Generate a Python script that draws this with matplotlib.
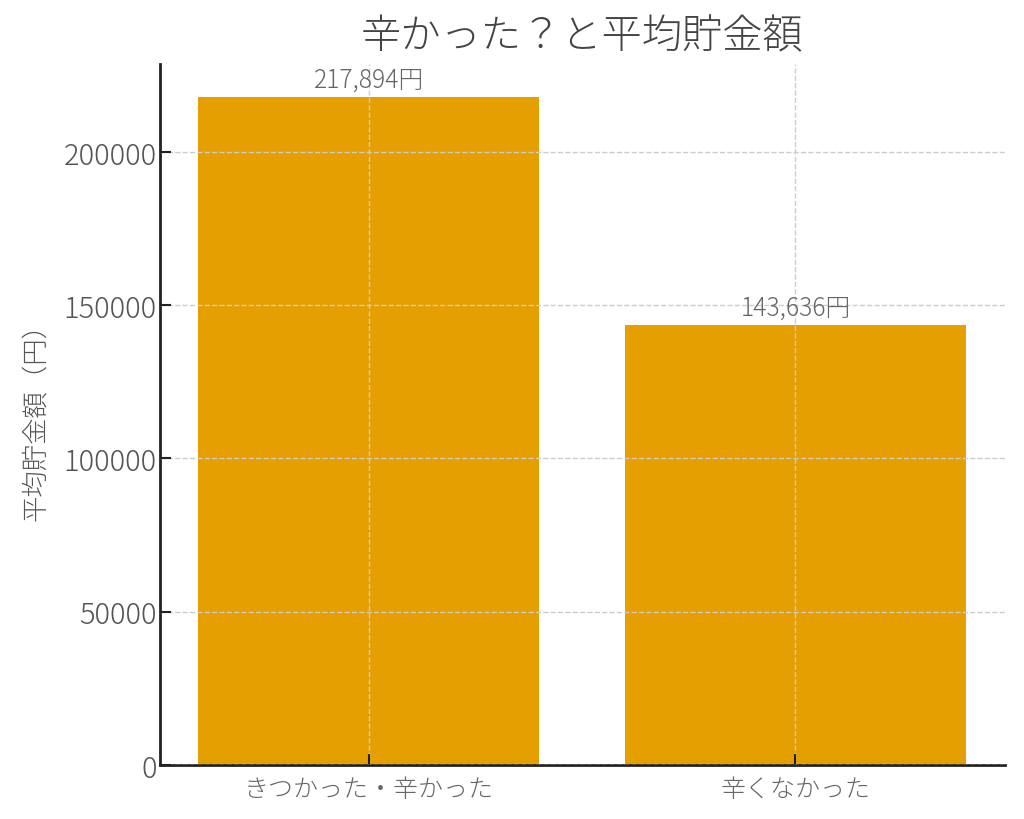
import matplotlib.pyplot as plt

categories = ["きつかった・辛かった", "辛くなかった"]
avg_savings = [217894, 143636]
bar_labels = ["217,894円", "143,636円"]

plt.rcParams['font.family'] = ['Noto Sans CJK JP', 'DejaVu Sans']

fig = plt.figure(figsize=(10.24, 8.2), dpi=100)
ax = fig.add_axes([0.156, 0.066, 0.825, 0.855])

ax.bar(categories, avg_savings, width=0.8, color='#E69F00')
ax.set_ylim(0, max(avg_savings) * 1.05)

# 棒の上に金額ラベル
for i, (v, lab) in enumerate(zip(avg_savings, bar_labels)):
    ax.text(i, v + 1500, lab, ha='center', va='bottom', fontsize=17.8,
            color='#666666', fontweight='light')

ax.set_title("辛かった？と平均貯金額", fontsize=29, color='#444444',
             fontweight='light', pad=12)
ax.set_ylabel("平均貯金額（円）", fontsize=19, color='#555555',
              fontweight='light', labelpad=10)

ax.grid(True, linestyle='--', color='#cccccc', linewidth=1)
ax.set_axisbelow(False)

for s in ['top', 'right']:
    ax.spines[s].set_visible(False)
for s in ['left', 'bottom']:
    ax.spines[s].set_color('#222222')
    ax.spines[s].set_linewidth(2)

ax.tick_params(axis='y', direction='in', length=8, width=1.5, labelsize=21,
               colors='#222222', pad=2)
ax.tick_params(axis='x', direction='in', length=8, width=1.5, labelsize=18,
               colors='#222222', pad=8)
for t in ax.get_xticklabels() + ax.get_yticklabels():
    t.set_fontweight('light')
ax.yaxis.set_tick_params(labelcolor='#555555')
ax.xaxis.set_tick_params(labelcolor='#666666')

fig.savefig("out.png", dpi=100)
